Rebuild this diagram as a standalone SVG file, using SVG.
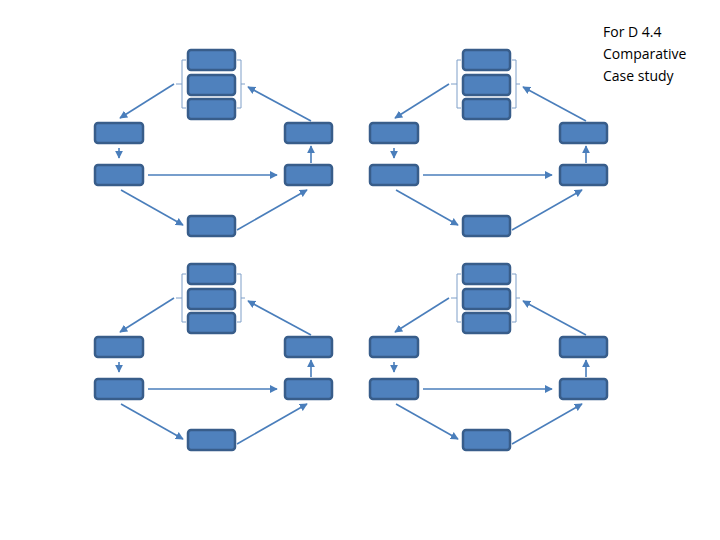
<svg xmlns="http://www.w3.org/2000/svg" width="720" height="540" viewBox="0 0 720 540">
<style>
.n{fill:#4f81bd;stroke:#385d8a;stroke-width:2.5}
.c{stroke:#4a7ebb;stroke-width:1.6;fill:none}
.b{stroke:#7f9fc8;stroke-width:1;fill:none}
text{font-family:"Open Sans","Liberation Sans",sans-serif;font-size:14px;fill:#000}
</style>
<defs>
<marker id="a" viewBox="0 0 10 10" refX="9" refY="5" markerWidth="5" markerHeight="5" orient="auto"><path d="M0,0L10,5L0,10z" fill="#4a7ebb"/></marker>
</defs>
<rect width="720" height="540" fill="#fff"/>
<g id="q1">
<g id="q1-t1"><rect class="n" x="188" y="50" width="47" height="20" rx="3"/></g>
<g id="q1-t2"><rect class="n" x="188" y="75" width="47" height="20" rx="3"/></g>
<g id="q1-t3"><rect class="n" x="188" y="99" width="47" height="20" rx="3"/></g>
<g id="q1-l1"><rect class="n" x="95" y="123" width="48" height="20" rx="3"/></g>
<g id="q1-l2"><rect class="n" x="95" y="165" width="48" height="20" rx="3"/></g>
<g id="q1-r1"><rect class="n" x="285" y="123" width="47" height="20" rx="3"/></g>
<g id="q1-r2"><rect class="n" x="285" y="165" width="47" height="20" rx="3"/></g>
<g id="q1-b"><rect class="n" x="188" y="216" width="47" height="20" rx="3"/></g>
<g id="q1-conn">
<path class="b" d="M186,60H182V108H186M176,84H182M237,60H241V108H237M241,84H245"/>
<path class="c" marker-end="url(#a)" d="M174,84L120,118"/>
<path class="c" marker-end="url(#a)" d="M311,121L248,87"/>
<path class="c" marker-end="url(#a)" d="M119,148V158"/>
<path class="c" marker-end="url(#a)" d="M311,163V146"/>
<path class="c" marker-end="url(#a)" d="M148,175H277"/>
<path class="c" marker-end="url(#a)" d="M121,190L183,225"/>
<path class="c" marker-end="url(#a)" d="M237,230L307,190"/>
</g>
</g>
<g id="q2" transform="translate(275,0)">
<g id="q2-t1"><rect class="n" x="188" y="50" width="47" height="20" rx="3"/></g>
<g id="q2-t2"><rect class="n" x="188" y="75" width="47" height="20" rx="3"/></g>
<g id="q2-t3"><rect class="n" x="188" y="99" width="47" height="20" rx="3"/></g>
<g id="q2-l1"><rect class="n" x="95" y="123" width="48" height="20" rx="3"/></g>
<g id="q2-l2"><rect class="n" x="95" y="165" width="48" height="20" rx="3"/></g>
<g id="q2-r1"><rect class="n" x="285" y="123" width="47" height="20" rx="3"/></g>
<g id="q2-r2"><rect class="n" x="285" y="165" width="47" height="20" rx="3"/></g>
<g id="q2-b"><rect class="n" x="188" y="216" width="47" height="20" rx="3"/></g>
<g id="q2-conn">
<path class="b" d="M186,60H182V108H186M176,84H182M237,60H241V108H237M241,84H245"/>
<path class="c" marker-end="url(#a)" d="M174,84L120,118"/>
<path class="c" marker-end="url(#a)" d="M311,121L248,87"/>
<path class="c" marker-end="url(#a)" d="M119,148V158"/>
<path class="c" marker-end="url(#a)" d="M311,163V146"/>
<path class="c" marker-end="url(#a)" d="M148,175H277"/>
<path class="c" marker-end="url(#a)" d="M121,190L183,225"/>
<path class="c" marker-end="url(#a)" d="M237,230L307,190"/>
</g>
</g>
<g id="q3" transform="translate(0,214)">
<g id="q3-t1"><rect class="n" x="188" y="50" width="47" height="20" rx="3"/></g>
<g id="q3-t2"><rect class="n" x="188" y="75" width="47" height="20" rx="3"/></g>
<g id="q3-t3"><rect class="n" x="188" y="99" width="47" height="20" rx="3"/></g>
<g id="q3-l1"><rect class="n" x="95" y="123" width="48" height="20" rx="3"/></g>
<g id="q3-l2"><rect class="n" x="95" y="165" width="48" height="20" rx="3"/></g>
<g id="q3-r1"><rect class="n" x="285" y="123" width="47" height="20" rx="3"/></g>
<g id="q3-r2"><rect class="n" x="285" y="165" width="47" height="20" rx="3"/></g>
<g id="q3-b"><rect class="n" x="188" y="216" width="47" height="20" rx="3"/></g>
<g id="q3-conn">
<path class="b" d="M186,60H182V108H186M176,84H182M237,60H241V108H237M241,84H245"/>
<path class="c" marker-end="url(#a)" d="M174,84L120,118"/>
<path class="c" marker-end="url(#a)" d="M311,121L248,87"/>
<path class="c" marker-end="url(#a)" d="M119,148V158"/>
<path class="c" marker-end="url(#a)" d="M311,163V146"/>
<path class="c" marker-end="url(#a)" d="M148,175H277"/>
<path class="c" marker-end="url(#a)" d="M121,190L183,225"/>
<path class="c" marker-end="url(#a)" d="M237,230L307,190"/>
</g>
</g>
<g id="q4" transform="translate(275,214)">
<g id="q4-t1"><rect class="n" x="188" y="50" width="47" height="20" rx="3"/></g>
<g id="q4-t2"><rect class="n" x="188" y="75" width="47" height="20" rx="3"/></g>
<g id="q4-t3"><rect class="n" x="188" y="99" width="47" height="20" rx="3"/></g>
<g id="q4-l1"><rect class="n" x="95" y="123" width="48" height="20" rx="3"/></g>
<g id="q4-l2"><rect class="n" x="95" y="165" width="48" height="20" rx="3"/></g>
<g id="q4-r1"><rect class="n" x="285" y="123" width="47" height="20" rx="3"/></g>
<g id="q4-r2"><rect class="n" x="285" y="165" width="47" height="20" rx="3"/></g>
<g id="q4-b"><rect class="n" x="188" y="216" width="47" height="20" rx="3"/></g>
<g id="q4-conn">
<path class="b" d="M186,60H182V108H186M176,84H182M237,60H241V108H237M241,84H245"/>
<path class="c" marker-end="url(#a)" d="M174,84L120,118"/>
<path class="c" marker-end="url(#a)" d="M311,121L248,87"/>
<path class="c" marker-end="url(#a)" d="M119,148V158"/>
<path class="c" marker-end="url(#a)" d="M311,163V146"/>
<path class="c" marker-end="url(#a)" d="M148,175H277"/>
<path class="c" marker-end="url(#a)" d="M121,190L183,225"/>
<path class="c" marker-end="url(#a)" d="M237,230L307,190"/>
</g>
</g>
<g id="note">
<text x="603" y="37">For D 4.4</text>
<text x="603" y="59">Comparative</text>
<text x="603" y="81">Case study</text>
</g>
</svg>
